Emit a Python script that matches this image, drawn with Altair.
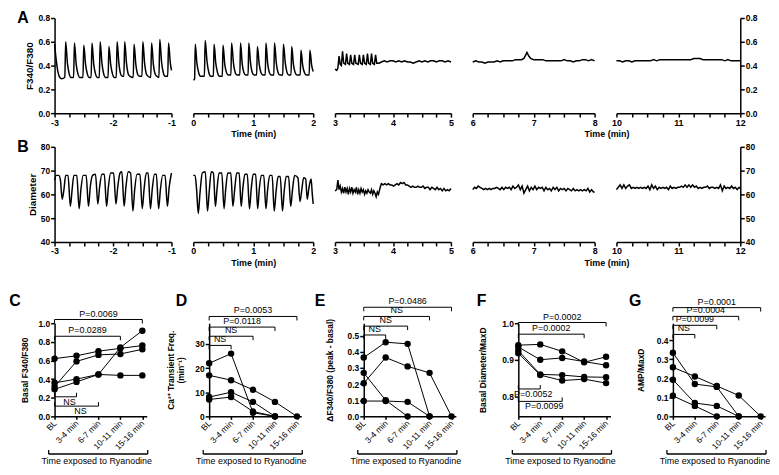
import altair as alt
import pandas as pd

FONT = "Liberation Sans, Arial, sans-serif"

# ---------------- Panel A : F340/F380 traces (time min, ratio) ----------------
CA_SEG1 = [(-3.00,0.58),(-2.97,0.44),(-2.94,0.34),(-2.91,0.30),(-2.88,0.29),(-2.825,0.30),(-2.81,0.60),(-2.78,0.42),
           (-2.75,0.33),(-2.72,0.30),(-2.675,0.30),(-2.66,0.59),(-2.63,0.41),(-2.60,0.33),(-2.57,0.30),(-2.515,0.30),
           (-2.50,0.57),(-2.47,0.41),(-2.44,0.33),(-2.41,0.30),(-2.375,0.30),(-2.36,0.59),(-2.33,0.41),(-2.30,0.33),
           (-2.27,0.30),(-2.235,0.30),(-2.22,0.60),(-2.19,0.42),(-2.16,0.33),(-2.13,0.30),(-2.085,0.30),(-2.07,0.56),
           (-2.04,0.41),(-2.01,0.33),(-1.98,0.30),(-1.945,0.30),(-1.93,0.60),(-1.90,0.42),(-1.87,0.33),(-1.84,0.31),
           (-1.815,0.31),(-1.80,0.60),(-1.77,0.42),(-1.74,0.33),(-1.71,0.31),(-1.655,0.30),(-1.64,0.58),(-1.61,0.41),
           (-1.58,0.33),(-1.55,0.31),(-1.505,0.31),(-1.49,0.60),(-1.46,0.42),(-1.43,0.33),(-1.40,0.31),(-1.355,0.30),
           (-1.34,0.59),(-1.31,0.41),(-1.28,0.33),(-1.25,0.31),(-1.215,0.30),(-1.20,0.62),(-1.17,0.43),(-1.14,0.34),
           (-1.11,0.31),(-1.065,0.31),(-1.05,0.59),(-1.02,0.42),(-1.00,0.36)]
CA_SEG2 = [(0.00,0.28),(0.01,0.28),(0.022,0.29),(0.033,0.58),(0.06,0.42),(0.09,0.34),(0.12,0.31),(0.185,0.31),
           (0.198,0.61),(0.23,0.43),(0.26,0.34),(0.29,0.31),(0.335,0.31),(0.347,0.58),(0.375,0.42),(0.405,0.34),
           (0.435,0.31),(0.484,0.31),(0.496,0.57),(0.525,0.41),(0.555,0.34),(0.585,0.32),(0.627,0.32),(0.639,0.59),
           (0.67,0.42),(0.70,0.34),(0.73,0.32),(0.776,0.32),(0.788,0.59),(0.815,0.42),(0.845,0.34),(0.875,0.32),
           (0.914,0.32),(0.926,0.59),(0.955,0.42),(0.985,0.34),(1.015,0.32),(1.057,0.32),(1.069,0.56),(1.10,0.41),
           (1.13,0.34),(1.16,0.32),(1.20,0.32),(1.212,0.59),(1.24,0.42),(1.27,0.34),(1.30,0.32),(1.343,0.32),
           (1.355,0.59),(1.385,0.42),(1.415,0.34),(1.445,0.32),(1.492,0.32),(1.504,0.58),(1.535,0.42),(1.565,0.34),
           (1.595,0.32),(1.63,0.32),(1.642,0.56),(1.67,0.41),(1.70,0.34),(1.73,0.32),(1.784,0.32),(1.796,0.53),
           (1.825,0.40),(1.855,0.34),(1.885,0.32),(1.933,0.32),(1.945,0.53),(1.975,0.40),(2.00,0.35)]
CA_SEG3 = [(3.00,0.37),(3.03,0.36),(3.05,0.38),(3.07,0.48),(3.09,0.41),(3.11,0.40),(3.13,0.52),(3.15,0.42),
           (3.18,0.41),(3.20,0.50),(3.22,0.42),(3.25,0.41),(3.27,0.49),(3.29,0.42),(3.32,0.41),(3.34,0.49),
           (3.36,0.42),(3.40,0.41),(3.42,0.49),(3.44,0.42),(3.47,0.41),(3.49,0.49),(3.51,0.42),(3.54,0.41),
           (3.56,0.50),(3.58,0.42),(3.61,0.41),(3.63,0.50),(3.65,0.42),(3.68,0.41),(3.70,0.49),(3.72,0.42),
           (3.76,0.42),(3.80,0.43),(3.85,0.44),(3.90,0.43),(3.95,0.44),(4.00,0.44),(4.05,0.43),(4.10,0.44),
           (4.15,0.43),(4.20,0.44),(4.25,0.43),(4.30,0.43),(4.35,0.42),(4.40,0.43),(4.45,0.44),(4.50,0.43),
           (4.55,0.44),(4.60,0.43),(4.65,0.44),(4.70,0.44),(4.75,0.43),(4.80,0.44),(4.85,0.44),(4.90,0.43),
           (4.95,0.44),(5.00,0.43)]
CA_SEG4 = [(6.00,0.43),(6.05,0.44),(6.10,0.43),(6.15,0.43),(6.20,0.42),(6.25,0.43),(6.30,0.43),(6.35,0.43),
           (6.40,0.44),(6.45,0.43),(6.50,0.44),(6.55,0.44),(6.60,0.44),(6.65,0.44),(6.70,0.45),(6.75,0.45),
           (6.80,0.45),(6.84,0.46),(6.87,0.49),(6.89,0.51),(6.92,0.48),(6.95,0.46),(7.00,0.45),(7.05,0.45),
           (7.10,0.45),(7.15,0.45),(7.20,0.44),(7.25,0.44),(7.30,0.44),(7.35,0.44),(7.40,0.44),(7.45,0.44),
           (7.50,0.45),(7.55,0.44),(7.60,0.44),(7.65,0.43),(7.70,0.44),(7.75,0.44),(7.80,0.45),(7.85,0.45),
           (7.90,0.44),(7.95,0.45),(8.00,0.44)]
CA_SEG5 = [(10.00,0.44),(10.05,0.44),(10.10,0.43),(10.15,0.44),(10.20,0.44),(10.25,0.43),(10.30,0.44),
           (10.35,0.44),(10.40,0.44),(10.45,0.44),(10.50,0.44),(10.55,0.44),(10.60,0.45),(10.65,0.44),
           (10.70,0.45),(10.75,0.45),(10.80,0.45),(10.85,0.45),(10.90,0.45),(10.95,0.45),(11.00,0.45),
           (11.05,0.45),(11.10,0.45),(11.15,0.45),(11.20,0.45),(11.25,0.46),(11.30,0.46),(11.35,0.46),
           (11.40,0.45),(11.45,0.45),(11.50,0.45),(11.55,0.45),(11.60,0.45),(11.65,0.45),(11.70,0.45),
           (11.75,0.44),(11.80,0.45),(11.85,0.44),(11.90,0.44),(11.95,0.44),(12.00,0.44)]

# ---------------- Panel B : diameter traces ----------------
DI_SEG1 = [(-3.00,66),(-2.97,68),(-2.93,68),(-2.90,66),(-2.87,58),(-2.84,62),(-2.81,68),(-2.77,68),(-2.73,55),
           (-2.70,62),(-2.67,68),(-2.62,68),(-2.58,54),(-2.55,62),(-2.51,68),(-2.46,68),(-2.42,55),(-2.39,63),
           (-2.35,68),(-2.30,68.5),(-2.26,56),(-2.23,63),(-2.19,68.5),(-2.15,68.5),(-2.11,55),(-2.08,63),
           (-2.04,69),(-1.99,69),(-1.95,56),(-1.92,63),(-1.88,69),(-1.85,69.5),(-1.81,55),(-1.78,63),
           (-1.74,69.5),(-1.70,69),(-1.66,53),(-1.63,62),(-1.59,68.5),(-1.54,68.5),(-1.50,54),(-1.47,62),
           (-1.43,69),(-1.40,69),(-1.36,54),(-1.33,62),(-1.29,68.5),(-1.26,68.5),(-1.22,54),(-1.19,62),
           (-1.15,68),(-1.11,68),(-1.07,55),(-1.04,63),(-1.00,69)]
DI_SEG2 = [(0.00,68),(0.03,68),(0.055,62),(0.083,52),(0.11,60),(0.15,69),(0.20,69.5),(0.237,53),(0.265,61),
           (0.30,69.5),(0.335,69),(0.369,55),(0.395,62),(0.43,69),(0.475,69),(0.513,54),(0.54,62),(0.575,69),
           (0.625,69),(0.661,55),(0.69,62),(0.725,69),(0.765,69),(0.799,55),(0.825,62),(0.86,68.5),(0.90,68.5),
           (0.937,54),(0.965,62),(1.00,68.5),(1.04,68.5),(1.074,54),(1.10,62),(1.135,68),(1.175,68),(1.212,54),
           (1.24,62),(1.275,68),(1.315,68),(1.350,53),(1.38,61),(1.415,67.5),(1.45,67.5),(1.488,53),(1.515,61),
           (1.55,67.5),(1.59,67.5),(1.625,55),(1.655,62),(1.69,68),(1.745,67),(1.780,57),(1.81,62),(1.84,67),
           (1.875,66.5),(1.90,58),(1.93,63),(1.965,66.5),(1.985,60),(2.00,56)]
DI_SEG3 = [(3.00,61.5),(3.03,62),(3.05,66),(3.07,62),(3.09,63.5),(3.11,61),(3.13,62.5),(3.15,60.5),(3.17,63),
           (3.19,61),(3.21,62.5),(3.23,60),(3.25,62.5),(3.27,61),(3.29,63),(3.31,60.5),(3.33,62),(3.35,61),
           (3.37,63),(3.39,60),(3.41,62),(3.43,60.5),(3.45,62.5),(3.47,61),(3.49,62),(3.51,60),(3.53,61.5),
           (3.55,60.5),(3.57,62),(3.59,61),(3.61,60.5),(3.63,62),(3.65,60),(3.67,61.5),(3.69,60.5),(3.71,59),
           (3.73,61),(3.75,60),(3.78,63),(3.80,64.5),(3.83,64),(3.86,64.5),(3.89,64),(3.92,64.5),(3.95,64),
           (3.98,64),(4.01,63.5),(4.04,64),(4.07,64.5),(4.10,64),(4.13,65),(4.16,64.5),(4.19,65),(4.22,64),
           (4.25,64),(4.28,63.5),(4.31,63),(4.34,63.5),(4.37,63),(4.40,63),(4.43,63.5),(4.46,63),(4.49,63),
           (4.52,63.5),(4.55,62.5),(4.58,63),(4.61,63),(4.64,62),(4.67,63),(4.70,62.5),(4.73,62),(4.76,63),
           (4.79,62),(4.82,62.5),(4.85,61.5),(4.88,62.5),(4.91,61.5),(4.94,62),(4.97,61.5),(5.00,62.5)]
DI_SEG4 = [(6.00,62),(6.03,63),(6.06,62.5),(6.09,63.5),(6.12,63),(6.15,62.5),(6.18,62),(6.21,62.5),(6.24,62),
           (6.27,62.5),(6.30,62),(6.33,62.5),(6.36,62.5),(6.39,63),(6.42,62.5),(6.45,62),(6.48,63),(6.51,62),
           (6.54,63),(6.57,62.5),(6.60,63),(6.63,62),(6.66,63.5),(6.69,62.5),(6.72,63),(6.75,64),(6.78,62),
           (6.81,63.5),(6.84,60.5),(6.87,62),(6.90,63.5),(6.93,61.5),(6.96,63),(6.99,62),(7.02,63.5),(7.05,62),
           (7.08,63),(7.11,62.5),(7.14,63),(7.17,61.5),(7.20,63),(7.23,62),(7.26,62.5),(7.29,61.5),(7.32,63),
           (7.35,62),(7.38,63),(7.41,61.5),(7.44,62.5),(7.47,62),(7.50,62.5),(7.53,61.5),(7.56,62.5),(7.59,62),
           (7.62,61.5),(7.65,62.5),(7.68,61.5),(7.71,62),(7.74,61.5),(7.77,62),(7.80,61.5),(7.83,62),(7.86,61.5),
           (7.89,62.5),(7.92,61),(7.95,62),(7.98,61),(8.00,61)]
DI_SEG5 = [(10.00,62),(10.03,63),(10.06,64),(10.09,62.5),(10.12,64),(10.15,62.5),(10.18,63.5),(10.21,64),
           (10.24,62.5),(10.27,63),(10.30,62.5),(10.33,63),(10.36,62.5),(10.39,63),(10.42,62.5),(10.45,63),
           (10.48,62.5),(10.51,63.5),(10.54,62),(10.57,64),(10.60,62.5),(10.63,63.5),(10.66,62),(10.69,63),
           (10.72,62.5),(10.75,63),(10.78,62.5),(10.81,63),(10.84,62),(10.87,63.5),(10.90,62.5),(10.93,63),
           (10.96,62.5),(10.99,63),(11.02,63),(11.05,63.5),(11.08,63),(11.11,64),(11.14,63),(11.17,64),
           (11.20,63),(11.23,64),(11.26,63),(11.29,63.5),(11.32,62.5),(11.35,63),(11.38,62.5),(11.41,63),
           (11.44,63),(11.47,63.5),(11.50,62.5),(11.53,63),(11.56,63),(11.59,62.5),(11.62,63),(11.65,62.5),
           (11.68,64),(11.71,61.5),(11.74,63.5),(11.77,62.5),(11.80,63),(11.83,62.5),(11.86,63.5),(11.89,62.5),
           (11.92,63),(11.95,62),(11.98,63),(12.00,62.5)]

SEG_DOMAINS = [(-3, -1), (0, 2), (3, 5), (6, 8), (10, 12)]

# ---------------- Panels C-G : per-cell values at each time point ----------------
CATS = ["BL", "3-4 min", "6-7 min", "10-11 min", "15-16 min"]
C_CELLS = [[0.62, 0.65, 0.70, 0.73, 0.76],
           [0.32, 0.59, 0.66, 0.67, 0.72],
           [0.29, 0.37, 0.45, 0.74, 0.92],
           [0.36, 0.40, 0.45, 0.44, 0.44]]
D_CELLS = [[17, 15, 11, 6, 0],
           [22, 26, 1.5, 0],
           [8, 10, 6, 0],
           [7, 8, 2, 0]]
E_CELLS = [[0.365, 0.46, 0.45, 0.0],
           [0.205, 0.365, 0.31, 0.27, 0.0],
           [0.27, 0.10, 0.0],
           [0.095, 0.095, 0.09, 0.0]]
F_CELLS = [[0.940, 0.942, 0.923, 0.893, 0.908],
           [0.935, 0.900, 0.905, 0.895, 0.885],
           [0.925, 0.860, 0.858, 0.853, 0.852],
           [0.918, 0.858, 0.843, 0.847, 0.836]]
G_CELLS = [[0.335, 0.17, 0.155, 0.0],
           [0.258, 0.21, 0.16, 0.11, 0.0],
           [0.193, 0.07, 0.055, 0.0],
           [0.108, 0.055, 0.0]]

# significance brackets: (from category, to category, level, label, side)
C_BRK = [(0, 4, 1.04, "P=0.0069", "top"), (0, 3, 0.86, "P=0.0289", "top"),
         (0, 1, 0.21, "NS", "bottom"), (0, 2, 0.11, "NS", "bottom")]
D_BRK = [(0, 4, 41.4, "P=0.0053", "top"), (0, 3, 37.0, "P=0.0118", "top"),
         (0, 2, 33.2, "NS", "top"), (0, 1, 29.4, "NS", "top")]
E_BRK = [(0, 4, 0.677, "P=0.0486", "top"), (0, 3, 0.62, "NS", "top"),
         (0, 2, 0.56, "NS", "top"), (0, 1, 0.505, "NS", "top")]
F_BRK = [(0, 4, 1.002, "P=0.0002", "top"), (0, 3, 0.97, "P=0.0002", "top"),
         (0, 1, 0.82, "P=0.0052", "bottom"), (0, 2, 0.786, "P=0.0099", "bottom")]
G_BRK = [(0, 4, 0.572, "P=0.0001", "top"), (0, 3, 0.526, "P=0.0004", "top"),
         (0, 2, 0.479, "P=0.0099", "top"), (0, 1, 0.431, "NS", "top")]

# ---------------- layout constants ----------------
SEG_W = [118, 121, 117, 123, 125]
SEG_GAP = 22
H_TOP = 96
H_BOT = 94
W_BOT = 93
ONE = pd.DataFrame({"k": [0]})


def spacer(x, y):
    # invisible glyph that only reserves layout room
    return alt.Chart(ONE).mark_text(text=".", fontSize=9, opacity=0).encode(x=alt.value(x), y=alt.value(y))


def seg_chart(pts, xdom, ydom, yticks, yfmt, w, yorient=None, ytitle=None,
              xtitle=None, xtitle_x=None, letter=None, interp="linear"):
    df = pd.DataFrame(pts, columns=["t", "v"])
    n = int(round((xdom[1] - xdom[0]) * 4))
    xticks = [xdom[0] + k * 0.25 for k in range(n + 1)]
    xkw = dict(values=xticks,
               labelExpr="datum.value % 1 == 0 ? '' + datum.value : ''",
               tickSize=4, labelPadding=1, labelFlush=False, labelOverlap=False,
               labelFontSize=9, title=None)
    if xtitle:
        xkw.update(title=xtitle, titleFontSize=9, titlePadding=3)
        if xtitle_x is not None:
            xkw["titleX"] = xtitle_x
    if yorient:
        ykw = dict(orient=yorient, values=yticks, format=yfmt, tickSize=4,
                   labelPadding=1, labelFlush=False, title=None)
        if ytitle:
            ykw.update(title=ytitle, titleFontSize=10, titlePadding=3)
        yax = alt.Axis(**ykw)
    else:
        yax = None
    line = alt.Chart(df).mark_line(color="black", strokeWidth=1.5, interpolate=interp).encode(
        x=alt.X("t:Q", scale=alt.Scale(domain=list(xdom), nice=False, zero=False), axis=alt.Axis(**xkw)),
        y=alt.Y("v:Q", scale=alt.Scale(domain=list(ydom), nice=False, zero=False), axis=yax),
    )
    layers = [line]
    if letter:
        layers.append(alt.Chart(ONE).mark_text(text=letter, fontSize=16, fontWeight="bold", font=FONT,
                                               align="center", baseline="middle", color="black")
                      .encode(x=alt.value(-32), y=alt.value(0)))
        layers.append(spacer(-38, 40))
    return alt.layer(*layers).properties(width=w, height=H_TOP)


def trace_row(segs, ydom, yticks, yfmt, ytitle, letter, interps):
    charts = []
    for i, (pts, xdom) in enumerate(zip(segs, SEG_DOMAINS)):
        kw = {}
        if i == 0:
            kw.update(yorient="left", ytitle=ytitle, letter=letter)
        if i == 4:
            kw.update(yorient="right", xtitle="Time (min)",
                      xtitle_x=(SEG_W[4] - (SEG_W[3] + SEG_GAP)) / 2)
        if i == 1:
            kw.update(xtitle="Time (min)")
        charts.append(seg_chart(pts, xdom, ydom, yticks, yfmt, SEG_W[i], interp=interps[i], **kw))
    return alt.hconcat(*charts, spacing=SEG_GAP, bounds="flush").resolve_scale(x="independent", y="independent")


def stat_panel(cells, ydom, yticks, yfmt, ytitle, brks, letter, letter_dx, tpad, first=False):
    rows = [{"cell": ci, "x": i, "v": v} for ci, cell in enumerate(cells) for i, v in enumerate(cell)]
    df = pd.DataFrame(rows)
    xs = alt.Scale(domain=[0, 4.2], nice=False, zero=False)
    ys = alt.Scale(domain=list(ydom), nice=False, zero=False)
    label_expr = "[" + ",".join("'%s'" % c for c in CATS) + "][datum.value]"
    xax = alt.Axis(values=[0, 1, 2, 3, 4], labelExpr=label_expr, labelAngle=315, labelAlign="right",
                   labelBaseline="middle", labelFontWeight="normal", labelFontSize=8.5, tickSize=3,
                   labelPadding=2, labelOverlap=False, labelFlush=False, title=None)
    yax = alt.Axis(values=yticks, format=yfmt, title=ytitle, titleFontSize=8.5, tickSize=4,
                   labelPadding=1, titlePadding=tpad, labelFlush=False, labelOverlap=False)

    def X(f):
        return alt.X(f, scale=xs, axis=xax)

    def Y(f):
        return alt.Y(f, scale=ys, axis=yax)

    base = alt.Chart(df)
    layers = [
        base.mark_line(color="black", strokeWidth=1).encode(x=X("x:Q"), y=Y("v:Q"), detail="cell:N"),
        base.mark_circle(size=42, color="black", opacity=1).encode(x=X("x:Q"), y=Y("v:Q")),
    ]
    tk = 4.0 * (ydom[1] - ydom[0]) / H_BOT
    brows = []
    for x1, x2, y, lab, side in brks:
        brows.append(dict(x1=x1, x2=x2, y=y, yt=(y - tk if side == "top" else y + tk),
                          xm=(x1 + x2) / 2.0, lab=lab, side=side))
    bdf = pd.DataFrame(brows)
    bb = alt.Chart(bdf)
    layers += [
        bb.mark_rule(color="black", strokeWidth=1).encode(x=X("x1:Q"), x2="x2:Q", y=Y("y:Q")),
        bb.mark_rule(color="black", strokeWidth=1).encode(x=X("x1:Q"), y=Y("y:Q"), y2="yt:Q"),
        bb.mark_rule(color="black", strokeWidth=1).encode(x=X("x2:Q"), y=Y("y:Q"), y2="yt:Q"),
    ]
    top = bdf[bdf.side == "top"]
    bot = bdf[bdf.side == "bottom"]
    if len(top):
        layers.append(alt.Chart(top).mark_text(fontSize=9, font=FONT, baseline="bottom", dy=-1, color="black")
                      .encode(x=X("xm:Q"), y=Y("y:Q"), text="lab:N"))
    if len(bot):
        layers.append(alt.Chart(bot).mark_text(fontSize=9, font=FONT, baseline="top", dy=1, dx=4, color="black")
                      .encode(x=X("xm:Q"), y=Y("y:Q"), text="lab:N"))
    dec = alt.Chart(ONE)
    yb = H_BOT + 38
    layers += [
        dec.mark_rule(color="black", strokeWidth=1.3).encode(x=alt.value(-6), x2=alt.value(W_BOT + 1), y=alt.value(yb)),
        dec.mark_rule(color="black", strokeWidth=1.3).encode(x=alt.value(-6), y=alt.value(yb - 4), y2=alt.value(yb)),
        dec.mark_rule(color="black", strokeWidth=1.3).encode(x=alt.value(W_BOT + 1), y=alt.value(yb - 4), y2=alt.value(yb)),
        dec.mark_text(text="Time exposed to Ryanodine", fontSize=9, font=FONT, baseline="top", align="center",
                      color="black").encode(x=alt.value(W_BOT / 2 - 4), y=alt.value(yb + 3)),
        dec.mark_text(text=letter, fontSize=16, fontWeight="bold", font=FONT, baseline="middle", align="center",
                      color="black").encode(x=alt.value(letter_dx), y=alt.value(-22)),
    ]
    if first:
        layers.append(spacer(0, -52))
        layers.append(spacer(-45, 40))
    return alt.layer(*layers).properties(width=W_BOT, height=H_BOT)


row_a = trace_row([CA_SEG1, CA_SEG2, CA_SEG3, CA_SEG4, CA_SEG5], (0, 0.8), [0, 0.2, 0.4, 0.6, 0.8], ".1f",
                  "F340/F380", "A", ["monotone", "monotone", "linear", "linear", "linear"])
row_b = trace_row([DI_SEG1, DI_SEG2, DI_SEG3, DI_SEG4, DI_SEG5], (40, 80), [40, 50, 60, 70, 80], "d",
                  "Diameter", "B", ["monotone", "monotone", "linear", "linear", "linear"])

pc = stat_panel(C_CELLS, (0, 1.0), [0, 0.2, 0.4, 0.6, 0.8, 1.0], ".1f", "Basal F340/F380", C_BRK, "C", -40, 8,
                first=True)
pd_ = stat_panel(D_CELLS, (0, 38.6), [0, 10, 20, 30], "d", ["Ca²⁺ Transient Freq.", "(min⁻¹)"], D_BRK, "D", -28, 9)
pe = stat_panel(E_CELLS, (0, 0.578), [0, 0.1, 0.2, 0.3, 0.4, 0.5], ".1f", "ΔF340/F380 (peak - basal)", E_BRK, "E", -44, 13)
pf = stat_panel(F_CELLS, (0.745, 1.0), [0.8, 0.9, 1.0], ".1f", "Basal Diameter/MaxD", F_BRK, "F", -37, 14)
pg = stat_panel(G_CELLS, (0, 0.49), [0, 0.1, 0.2, 0.3, 0.4], ".1f", "AMP/MaxD", G_BRK, "G", -38, 11)

row_c = alt.hconcat(pc, pd_, pe, pf, pg, spacing=63, bounds="flush").resolve_scale(x="independent", y="independent")

chart = alt.vconcat(row_a, row_b, row_c, spacing=0).resolve_scale(
    x="independent", y="independent"
).properties(padding=0).configure_view(stroke=None).configure_axis(
    domainColor="black", domainWidth=1.5, tickColor="black", tickWidth=1.5,
    labelColor="black", titleColor="black", labelFont=FONT, titleFont=FONT,
    labelFontWeight="bold", titleFontWeight="bold", labelFontSize=8.5, grid=False
)

chart.save("out.html", embed_options={"renderer": "svg", "actions": False})
